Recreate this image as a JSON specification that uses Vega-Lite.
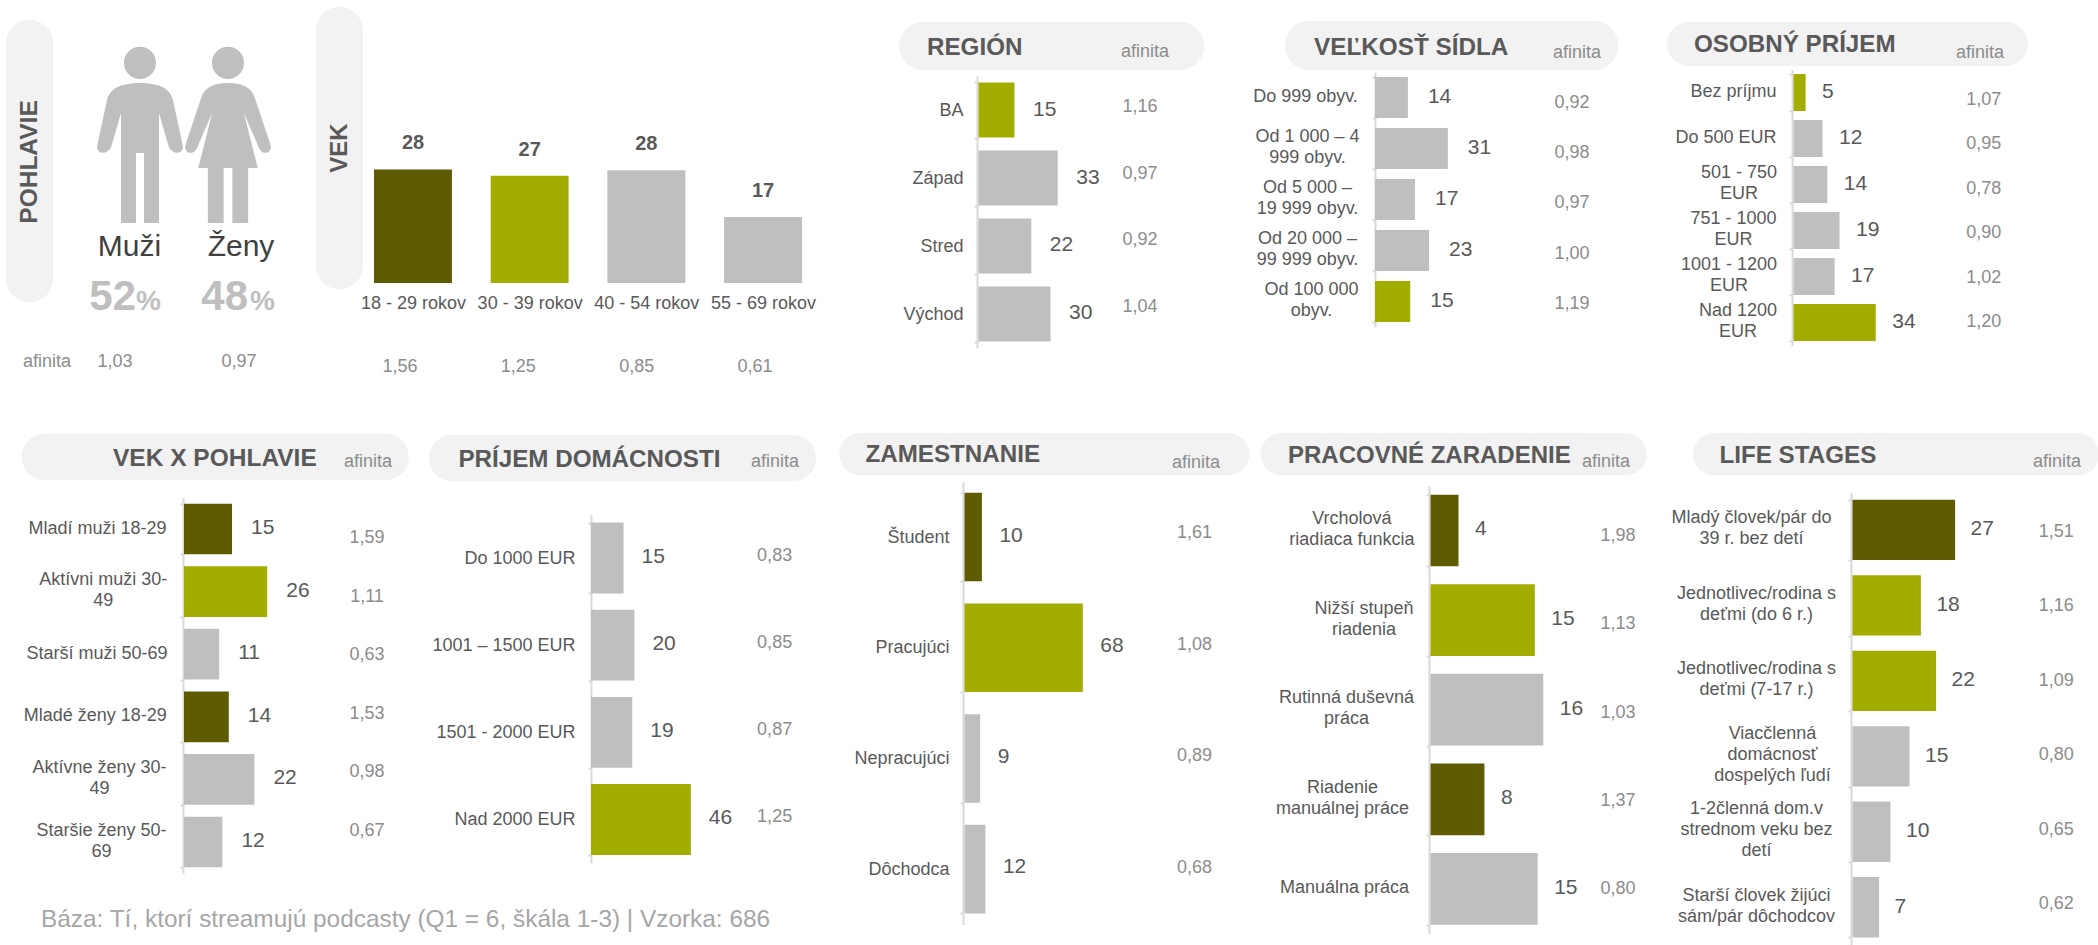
{"$schema":"https://vega.github.io/schema/vega-lite/v6.json","autosize":{"type":"none"},"padding":{"left":0,"top":0,"right":2098,"bottom":945},"bounds":"flush","spacing":420,
"config":{"font":"Liberation Sans","view":{"stroke":null},"legend":{"disable":true},"axisQuantitative":{"disable":true},"range":{"category":["#5f5b00","#a3ad00","#bfbfbf"]},
"axis":{"grid":false,"domainColor":"#d9d9d9","domainWidth":2,"tickColor":"#d9d9d9","tickWidth":2,"tickSize":3,"tickBand":"extent","labelFont":"Liberation Sans","labelFontSize":18,"labelColor":"#595959","labelLimit":300,"labelOverlap":false,"labelBound":false,"labelFlush":false,"labelLineHeight":21,"labelExpr":"split(datum.label,'|')"},
"text":{"baseline":"middle"}},
"vconcat":[
{"hconcat":[
{"width":316,"height":420,"data":{"values":[{"g":"Muži","pct":52,"a":"1,03"},{"g":"Ženy","pct":48,"a":"0,97"}]},"resolve":{"scale":{"x":"independent"}},"layer":[
{"data":{"values":[{"t":"POHLAVIE"}]},"mark":{"type":"rect","color":"#f2f2f2","cornerRadius":23},"encoding":{"x":{"value":6},"x2":{"value":53},"y":{"value":20},"y2":{"value":302}}},
{"data":{"values":[{"t":"POHLAVIE"}]},"mark":{"type":"text","align":"center","angle":270,"fontWeight":"bold","fontSize":24.5,"color":"#595959"},"encoding":{"x":{"value":30},"y":{"value":162},"text":{"field":"t"}}},
{"mark":{"type":"point","filled":true,"opacity":1,"color":"#bfbfbf"},"encoding":{"x":{"field":"g","type":"nominal","axis":null,"sort":null,"scale":{"type":"point","range":[140,228],"padding":0}},"y":{"value":135.5},"size":{"value":30625},"shape":{"field":"g","type":"nominal","scale":{"domain":["Muži","Ženy"],"range":["M-.183 -.83A.183 .183 0 1 1 .183 -.83A.183 .183 0 1 1 -.183 -.83ZM0 -.6C-.2 -.6 -.34 -.55 -.377 -.406L-.49 .12C-.5 .2 -.39 .24 -.33 .13L-.217 -.257L-.217 1L-.046 1L-.046 .2L.046 .2L.046 1L.217 1L.217 -.257L.33 .13C.39 .24 .5 .2 .49 .12L.377 -.406C.34 -.55 .2 -.6 0 -.6Z","M-.183 -.83A.183 .183 0 1 1 .183 -.83A.183 .183 0 1 1 -.183 -.83ZM0 -.6C-.15 -.6 -.27 -.56 -.31 -.42L-.49 .12C-.5 .2 -.39 .24 -.35 .13L-.18 -.26L-.34 .37L-.23 .37L-.23 1L-.05 1L-.05 .37L.05 .37L.05 1L.23 1L.23 .37L.34 .37L.18 -.26L.35 .13C.39 .24 .5 .2 .49 .12L.31 -.42C.27 -.56 .15 -.6 0 -.6Z"]}}}},
{"mark":{"type":"text","align":"center","baseline":"alphabetic","fontSize":30,"color":"#404040"},"encoding":{"x":{"field":"g","type":"nominal","axis":null,"sort":null,"scale":{"type":"point","range":[129.5,241],"padding":0}},"y":{"value":256},"text":{"field":"g"}}},
{"mark":{"type":"text","align":"right","baseline":"alphabetic","fontSize":42,"fontWeight":"bold","color":"#bfbfbf"},"encoding":{"x":{"field":"g","type":"nominal","axis":null,"sort":null,"scale":{"type":"point","range":[136,248],"padding":0}},"y":{"value":310},"text":{"field":"pct"}}},
{"mark":{"type":"text","align":"left","baseline":"alphabetic","fontSize":28,"fontWeight":"bold","color":"#bfbfbf","text":"%"},"encoding":{"x":{"field":"g","type":"nominal","axis":null,"sort":null,"scale":{"type":"point","range":[136,250],"padding":0}},"y":{"value":310}}},
{"mark":{"type":"text","align":"center","fontSize":18,"color":"#8c8c8c"},"encoding":{"x":{"field":"g","type":"nominal","axis":null,"sort":null,"scale":{"type":"point","range":[115,239],"padding":0}},"y":{"value":362},"text":{"field":"a"}}},
{"data":{"values":[{"t":"afinita"}]},"mark":{"type":"text","align":"center","fontSize":18,"color":"#8c8c8c"},"encoding":{"x":{"value":47},"y":{"value":362},"text":{"field":"t"}}}
]},
{"width":661,"height":420,"data":{"values":[{"c":"18 - 29 rokov","v":28.4,"k":"dark","a":"1,56"},{"c":"30 - 39 rokov","v":26.8,"k":"green","a":"1,25"},{"c":"40 - 54 rokov","v":28.2,"k":"grey","a":"0,85"},{"c":"55 - 69 rokov","v":16.5,"k":"grey","a":"0,61"}]},"resolve":{"scale":{"x":"independent"}},"layer":[
{"data":{"values":[{"t":"VEK"}]},"mark":{"type":"rect","color":"#f2f2f2","cornerRadius":23},"encoding":{"x":{"value":0},"x2":{"value":47},"y":{"value":7},"y2":{"value":289}}},
{"data":{"values":[{"t":"VEK"}]},"mark":{"type":"text","align":"center","angle":270,"fontWeight":"bold","fontSize":24,"color":"#595959"},"encoding":{"x":{"value":24},"y":{"value":148},"text":{"field":"t"}}},
{"mark":{"type":"bar"},"encoding":{"x":{"field":"c","type":"nominal","sort":null,"title":null,"scale":{"type":"band","range":[38.6,505.4],"paddingInner":0.332,"paddingOuter":0.166},"axis":{"offset":-137,"domain":false,"ticks":false,"labelAngle":0,"labelPadding":11}},"y":{"field":"v","type":"quantitative","scale":{"domain":[0,40],"range":[283,123],"nice":false}},"color":{"field":"k","type":"nominal"}}},
{"mark":{"type":"text","align":"center","dy":-26,"fontSize":20,"fontWeight":"bold","color":"#595959"},"encoding":{"x":{"field":"c","type":"nominal","sort":null,"axis":null,"scale":{"type":"point","range":[97,447],"padding":0}},"y":{"field":"v","type":"quantitative"},"text":{"field":"v","type":"quantitative","format":".0f"}}},
{"mark":{"type":"text","align":"center","fontSize":18,"color":"#8c8c8c"},"encoding":{"x":{"field":"c","type":"nominal","sort":null,"axis":null,"scale":{"type":"point","range":[84,439],"padding":0}},"y":{"datum":-21},"text":{"field":"a"}}}
]},
{"width":398,"height":420,"data":{"values":[{"c":"BA","v":15,"k":"green","a":"1,16"},{"c":"Západ","v":33,"k":"grey","a":"0,97"},{"c":"Stred","v":22,"k":"grey","a":"0,92"},{"c":"Východ","v":30,"k":"grey","a":"1,04"}]},"resolve":{"scale":{"y":"independent"}},"layer":[
{"data":{"values":[{"t":"REGIÓN"}]},"mark":{"type":"rect","color":"#f2f2f2","cornerRadius":24},"encoding":{"x":{"value":-78},"x2":{"value":227},"y":{"value":22},"y2":{"value":70}}},
{"data":{"values":[{"t":"REGIÓN"}]},"mark":{"type":"text","align":"left","fontWeight":"bold","fontSize":24.2,"color":"#595959"},"encoding":{"x":{"value":-50},"y":{"value":48},"text":{"field":"t"}}},
{"data":{"values":[{"t":"afinita"}]},"mark":{"type":"text","align":"center","fontSize":18,"color":"#8c8c8c"},"encoding":{"x":{"value":168},"y":{"value":52},"text":{"field":"t"}}},
{"mark":{"type":"bar","xOffset":1.5},"encoding":{"y":{"field":"c","type":"nominal","sort":null,"title":null,"scale":{"type":"band","range":[76,348],"paddingInner":0.19,"paddingOuter":0.095},"axis":{"labelPadding":11,"labelAlign":"right"}},"x":{"field":"v","type":"quantitative","scale":{"domain":[0,165.8],"nice":false}},"color":{"field":"k","type":"nominal"}}},
{"mark":{"type":"text","align":"left","dx":20,"fontSize":21,"color":"#595959"},"encoding":{"y":{"field":"c","type":"nominal","sort":null,"axis":null,"scale":{"type":"point","range":[110,313],"padding":0}},"x":{"field":"v","type":"quantitative"},"text":{"field":"v"}}},
{"mark":{"type":"text","align":"center","dy":1,"fontSize":18,"color":"#8c8c8c"},"encoding":{"y":{"field":"c","type":"nominal","sort":null,"axis":null,"scale":{"type":"point","range":[106,306],"padding":0}},"x":{"datum":67.9},"text":{"field":"a"}}}
]},
{"width":416.5,"height":420,"data":{"values":[{"c":"Do 999 obyv.","v":14,"k":"grey","a":"0,92"},{"c":"Od 1 000 – 4|999 obyv.","v":31,"k":"grey","a":"0,98"},{"c":"Od 5 000 –|19 999 obyv.","v":17,"k":"grey","a":"0,97"},{"c":"Od 20 000 –|99 999 obyv.","v":23,"k":"grey","a":"1,00"},{"c":"Od 100 000|obyv.","v":15,"k":"green","a":"1,19"}]},"resolve":{"scale":{"y":"independent"}},"layer":[
{"data":{"values":[{"t":"VEĽKOSŤ SÍDLA"}]},"mark":{"type":"rect","color":"#f2f2f2","cornerRadius":24},"encoding":{"x":{"value":-90},"x2":{"value":243},"y":{"value":21},"y2":{"value":70}}},
{"data":{"values":[{"t":"VEĽKOSŤ SÍDLA"}]},"mark":{"type":"text","align":"left","fontWeight":"bold","fontSize":24.3,"color":"#595959"},"encoding":{"x":{"value":-61},"y":{"value":48},"text":{"field":"t"}}},
{"data":{"values":[{"t":"afinita"}]},"mark":{"type":"text","align":"center","fontSize":18,"color":"#8c8c8c"},"encoding":{"x":{"value":202},"y":{"value":53},"text":{"field":"t"}}},
{"mark":{"type":"bar"},"encoding":{"y":{"field":"c","type":"nominal","sort":null,"title":null,"scale":{"type":"band","range":[72,327],"paddingInner":0.196,"paddingOuter":0.098},"axis":{"labelAlign":"center","labelOffset":{"condition":[{"test":"length(split(datum.value,'|'))==2","value":-12}],"value":-1},"labelPadding":{"condition":[{"test":"datum.value=='Do 999 obyv.'","value":67},{"test":"datum.value=='Od 100 000|obyv.'","value":61}],"value":65}}},"x":{"field":"v","type":"quantitative","scale":{"domain":[0,177.2],"nice":false}},"color":{"field":"k","type":"nominal"}}},
{"mark":{"type":"text","align":"left","dx":20,"fontSize":21,"color":"#595959"},"encoding":{"y":{"field":"c","type":"nominal","sort":null,"axis":null,"scale":{"type":"point","range":[97,301],"padding":0}},"x":{"field":"v","type":"quantitative"},"text":{"field":"v"}}},
{"mark":{"type":"text","align":"center","dy":1,"fontSize":18,"color":"#8c8c8c"},"encoding":{"y":{"field":"c","type":"nominal","sort":null,"axis":null,"scale":{"type":"point","range":[101.7,303],"padding":0}},"x":{"datum":83.8},"text":{"field":"a"}}}
]},
{"width":306.5,"height":420,"data":{"values":[{"c":"Bez príjmu","v":5,"k":"green","a":"1,07"},{"c":"Do 500 EUR","v":12,"k":"grey","a":"0,95"},{"c":"501 - 750|EUR","v":14,"k":"grey","a":"0,78"},{"c":"751 - 1000|EUR","v":19,"k":"grey","a":"0,90"},{"c":"1001 - 1200|EUR","v":17,"k":"grey","a":"1,02"},{"c":"Nad 1200|EUR","v":34,"k":"green","a":"1,20"}]},"resolve":{"scale":{"y":"independent"}},"layer":[
{"data":{"values":[{"t":"OSOBNÝ PRÍJEM"}]},"mark":{"type":"rect","color":"#f2f2f2","cornerRadius":22},"encoding":{"x":{"value":-125},"x2":{"value":236},"y":{"value":22},"y2":{"value":66}}},
{"data":{"values":[{"t":"OSOBNÝ PRÍJEM"}]},"mark":{"type":"text","align":"left","fontWeight":"bold","fontSize":24.2,"color":"#595959"},"encoding":{"x":{"value":-98},"y":{"value":45},"text":{"field":"t"}}},
{"data":{"values":[{"t":"afinita"}]},"mark":{"type":"text","align":"center","fontSize":18,"color":"#8c8c8c"},"encoding":{"x":{"value":188},"y":{"value":53},"text":{"field":"t"}}},
{"mark":{"type":"bar","xOffset":1.5},"encoding":{"y":{"field":"c","type":"nominal","sort":null,"title":null,"scale":{"type":"band","range":[69.5,345.5],"paddingInner":0.196,"paddingOuter":0.098},"axis":{"labelAlign":"center","labelOffset":{"condition":[{"test":"length(split(datum.value,'|'))==2","value":-12}],"value":-1},"labelPadding":{"condition":[{"test":"datum.value=='Do 500 EUR'","value":63.5},{"test":"datum.value=='501 - 750|EUR'","value":50.5},{"test":"datum.value=='1001 - 1200|EUR'","value":60.5},{"test":"datum.value=='Nad 1200|EUR'","value":51.5}],"value":56}}},"x":{"field":"v","type":"quantitative","scale":{"domain":[0,126.7],"nice":false}},"color":{"field":"k","type":"nominal"}}},
{"mark":{"type":"text","align":"left","dx":18,"fontSize":21,"color":"#595959"},"encoding":{"y":{"field":"c","type":"nominal","sort":null,"axis":null,"scale":{"type":"point","range":[92,322],"padding":0}},"x":{"field":"v","type":"quantitative"},"text":{"field":"v"}}},
{"mark":{"type":"text","align":"center","dy":1,"fontSize":18,"color":"#8c8c8c"},"encoding":{"y":{"field":"c","type":"nominal","sort":null,"axis":null,"scale":{"type":"point","range":[99,321],"padding":0}},"x":{"datum":79.3},"text":{"field":"a"}}}
]}
],"bounds":"flush","spacing":0},
{"hconcat":[
{"width":183,"height":525,"data":{"values":[{"t":"Báza: Tí, ktorí streamujú podcasty (Q1 = 6, škála 1-3) | Vzorka: 686"}]},"mark":{"type":"text","align":"left","fontSize":24.4,"color":"#a6a6a6"},"encoding":{"x":{"value":41},"y":{"value":500},"text":{"field":"t"}}},
{"width":408,"height":525,"data":{"values":[{"c":"Mladí muži 18-29","v":15,"k":"dark","a":"1,59"},{"c":"Aktívni muži 30-|49","v":26,"k":"green","a":"1,11"},{"c":"Starší muži 50-69","v":11,"k":"grey","a":"0,63"},{"c":"Mladé ženy 18-29","v":14,"k":"dark","a":"1,53"},{"c":"Aktívne ženy 30-|49","v":22,"k":"grey","a":"0,98"},{"c":"Staršie ženy 50-|69","v":12,"k":"grey","a":"0,67"}]},"resolve":{"scale":{"y":"independent"}},"layer":[
{"data":{"values":[{"t":"VEK X POHLAVIE"}]},"mark":{"type":"rect","color":"#f2f2f2","cornerRadius":23},"encoding":{"x":{"value":-161.3},"x2":{"value":225.7},"y":{"value":13.7},"y2":{"value":60}}},
{"data":{"values":[{"t":"VEK X POHLAVIE"}]},"mark":{"type":"text","align":"left","fontWeight":"bold","fontSize":24.5,"color":"#595959"},"encoding":{"x":{"value":-70},"y":{"value":39.3},"text":{"field":"t"}}},
{"data":{"values":[{"t":"afinita"}]},"mark":{"type":"text","align":"center","fontSize":18,"color":"#8c8c8c"},"encoding":{"x":{"value":185},"y":{"value":42},"text":{"field":"t"}}},
{"mark":{"type":"bar","xOffset":1},"encoding":{"y":{"field":"c","type":"nominal","sort":null,"title":null,"scale":{"type":"band","range":[77.7,453.3],"paddingInner":0.19,"paddingOuter":0.095},"axis":{"labelAlign":"center","labelOffset":{"condition":[{"test":"length(split(datum.value,'|'))==2","value":-12}],"value":-1},"labelPadding":{"condition":[{"test":"datum.value=='Mladí muži 18-29'","value":83},{"test":"datum.value=='Aktívni muži 30-|49'","value":77.3},{"test":"datum.value=='Starší muži 50-69'","value":83.4},{"test":"datum.value=='Mladé ženy 18-29'","value":85.2},{"test":"datum.value=='Aktívne ženy 30-|49'","value":81}],"value":79}}},"x":{"field":"v","type":"quantitative","scale":{"domain":[0,127.5],"nice":false}},"color":{"field":"k","type":"nominal"}}},
{"mark":{"type":"text","align":"left","dx":20,"fontSize":21,"color":"#595959"},"encoding":{"y":{"field":"c","type":"nominal","sort":null,"axis":null,"scale":{"type":"point","range":[108,421],"padding":0}},"x":{"field":"v","type":"quantitative"},"text":{"field":"v"}}},
{"mark":{"type":"text","align":"center","dy":1,"fontSize":18,"color":"#8c8c8c"},"encoding":{"y":{"field":"c","type":"nominal","sort":null,"axis":null,"scale":{"type":"point","range":[117,410],"padding":0}},"x":{"datum":57.5},"text":{"field":"a"}}}
]},
{"width":371.6,"height":525,"data":{"values":[{"c":"Do 1000 EUR","v":15,"k":"grey","a":"0,83"},{"c":"1001 – 1500 EUR","v":20,"k":"grey","a":"0,85"},{"c":"1501 - 2000 EUR","v":19,"k":"grey","a":"0,87"},{"c":"Nad 2000 EUR","v":46,"k":"green","a":"1,25"}]},"resolve":{"scale":{"y":"independent"}},"layer":[
{"data":{"values":[{"t":"PRÍJEM DOMÁCNOSTI"}]},"mark":{"type":"rect","color":"#f2f2f2","cornerRadius":23},"encoding":{"x":{"value":-162},"x2":{"value":225},"y":{"value":15},"y2":{"value":61.3}}},
{"data":{"values":[{"t":"PRÍJEM DOMÁCNOSTI"}]},"mark":{"type":"text","align":"left","fontWeight":"bold","fontSize":24.2,"color":"#595959"},"encoding":{"x":{"value":-132.6},"y":{"value":40.3},"text":{"field":"t"}}},
{"data":{"values":[{"t":"afinita"}]},"mark":{"type":"text","align":"center","fontSize":18,"color":"#8c8c8c"},"encoding":{"x":{"value":184},"y":{"value":42},"text":{"field":"t"}}},
{"mark":{"type":"bar"},"encoding":{"y":{"field":"c","type":"nominal","sort":null,"title":null,"scale":{"type":"band","range":[94.5,443],"paddingInner":0.187,"paddingOuter":0.093},"axis":{"labelPadding":13,"labelAlign":"right"}},"x":{"field":"v","type":"quantitative","scale":{"domain":[0,171.2],"nice":false}},"color":{"field":"k","type":"nominal"}}},
{"mark":{"type":"text","align":"left","dx":18,"fontSize":21,"color":"#595959"},"encoding":{"y":{"field":"c","type":"nominal","sort":null,"axis":null,"scale":{"type":"point","range":[137,398],"padding":0}},"x":{"field":"v","type":"quantitative"},"text":{"field":"v"}}},
{"mark":{"type":"text","align":"center","dy":1,"fontSize":18,"color":"#8c8c8c"},"encoding":{"y":{"field":"c","type":"nominal","sort":null,"axis":null,"scale":{"type":"point","range":[135,396],"padding":0}},"x":{"datum":84.6},"text":{"field":"a"}}}
]},
{"width":465.8,"height":525,"data":{"values":[{"c":"Študent","v":10,"k":"dark","a":"1,61"},{"c":"Pracujúci","v":68,"k":"green","a":"1,08"},{"c":"Nepracujúci","v":9,"k":"grey","a":"0,89"},{"c":"Dôchodca","v":12,"k":"grey","a":"0,68"}]},"resolve":{"scale":{"y":"independent"}},"layer":[
{"data":{"values":[{"t":"ZAMESTNANIE"}]},"mark":{"type":"rect","color":"#f2f2f2","cornerRadius":21},"encoding":{"x":{"value":-123.6},"x2":{"value":286.4},"y":{"value":13},"y2":{"value":55.3}}},
{"data":{"values":[{"t":"ZAMESTNANIE"}]},"mark":{"type":"text","align":"left","fontWeight":"bold","fontSize":24.2,"color":"#595959"},"encoding":{"x":{"value":-97.6},"y":{"value":35},"text":{"field":"t"}}},
{"data":{"values":[{"t":"afinita"}]},"mark":{"type":"text","align":"center","fontSize":18,"color":"#8c8c8c"},"encoding":{"x":{"value":233},"y":{"value":42.7},"text":{"field":"t"}}},
{"mark":{"type":"bar","xOffset":1.5},"encoding":{"y":{"field":"c","type":"nominal","sort":null,"title":null,"scale":{"type":"band","range":[61.7,504.5],"paddingInner":0.2,"paddingOuter":0.1},"axis":{"labelPadding":11,"labelAlign":"right"}},"x":{"field":"v","type":"quantitative","scale":{"domain":[0,267.7],"nice":false}},"color":{"field":"k","type":"nominal"}}},
{"mark":{"type":"text","align":"left","dx":19,"fontSize":21,"color":"#595959"},"encoding":{"y":{"field":"c","type":"nominal","sort":null,"axis":null,"scale":{"type":"point","range":[116,447],"padding":0}},"x":{"field":"v","type":"quantitative"},"text":{"field":"v"}}},
{"mark":{"type":"text","align":"center","dy":1,"fontSize":18,"color":"#8c8c8c"},"encoding":{"y":{"field":"c","type":"nominal","sort":null,"axis":null,"scale":{"type":"point","range":[112,446.7],"padding":0}},"x":{"datum":133},"text":{"field":"a"}}}
]},
{"width":421.6,"height":525,"data":{"values":[{"c":"Vrcholová|riadiaca funkcia","v":4,"k":"dark","a":"1,98"},{"c":"Nižší stupeň|riadenia","v":14.9,"k":"green","a":"1,13"},{"c":"Rutinná duševná|práca","v":16.1,"k":"grey","a":"1,03"},{"c":"Riadenie|manuálnej práce","v":7.7,"k":"dark","a":"1,37"},{"c":"Manuálna práca","v":15.3,"k":"grey","a":"0,80"}]},"resolve":{"scale":{"y":"independent"}},"layer":[
{"data":{"values":[{"t":"PRACOVNÉ ZARADENIE"}]},"mark":{"type":"rect","color":"#f2f2f2","cornerRadius":21},"encoding":{"x":{"value":-168.4},"x2":{"value":217.6},"y":{"value":13},"y2":{"value":55.3}}},
{"data":{"values":[{"t":"PRACOVNÉ ZARADENIE"}]},"mark":{"type":"text","align":"left","fontWeight":"bold","fontSize":24,"color":"#595959"},"encoding":{"x":{"value":-141},"y":{"value":36},"text":{"field":"t"}}},
{"data":{"values":[{"t":"afinita"}]},"mark":{"type":"text","align":"center","fontSize":18,"color":"#8c8c8c"},"encoding":{"x":{"value":177},"y":{"value":42},"text":{"field":"t"}}},
{"mark":{"type":"bar","xOffset":1.5},"encoding":{"y":{"field":"c","type":"nominal","sort":null,"title":null,"scale":{"type":"band","range":[65.7,513.7],"paddingInner":0.2,"paddingOuter":0.1},"axis":{"labelAlign":"center","labelOffset":{"condition":[{"test":"length(split(datum.value,'|'))==2","value":-12}],"value":-1},"labelPadding":{"condition":[{"test":"datum.value=='Nižší stupeň|riadenia'","value":62.4},{"test":"datum.value=='Vrcholová|riadiaca funkcia'","value":74.6},{"test":"datum.value=='Rutinná duševná|práca'","value":80},{"test":"datum.value=='Riadenie|manuálnej práce'","value":84}],"value":82}}},"x":{"field":"v","type":"quantitative","scale":{"domain":[0,60.2],"nice":false}},"color":{"field":"k","type":"nominal"}}},
{"mark":{"type":"text","align":"left","dx":18,"fontSize":21,"color":"#595959"},"encoding":{"y":{"field":"c","type":"nominal","sort":null,"axis":null,"scale":{"type":"point","range":[109,468],"padding":0}},"x":{"field":"v","type":"quantitative"},"text":{"field":"v","type":"quantitative","format":".0f"}}},
{"mark":{"type":"text","align":"center","dy":1,"fontSize":18,"color":"#8c8c8c"},"encoding":{"y":{"field":"c","type":"nominal","sort":null,"axis":null,"scale":{"type":"point","range":[115,468],"padding":0}},"x":{"datum":27},"text":{"field":"a"}}}
]},
{"width":248,"height":525,"data":{"values":[{"c":"Mladý človek/pár do|39 r. bez detí","v":27,"k":"dark","a":"1,51"},{"c":"Jednotlivec/rodina s|deťmi (do 6 r.)","v":18,"k":"green","a":"1,16"},{"c":"Jednotlivec/rodina s|deťmi (7-17 r.)","v":22,"k":"green","a":"1,09"},{"c":"Viacčlenná|domácnosť|dospelých ľudí","v":15,"k":"grey","a":"0,80"},{"c":"1-2členná dom.v|strednom veku bez|detí","v":10,"k":"grey","a":"0,65"},{"c":"Starší človek žijúci|sám/pár dôchodcov","v":7,"k":"grey","a":"0,62"}]},"resolve":{"scale":{"y":"independent"}},"layer":[
{"data":{"values":[{"t":"LIFE STAGES"}]},"mark":{"type":"rect","color":"#f2f2f2","cornerRadius":21},"encoding":{"x":{"value":-158},"x2":{"value":248},"y":{"value":13},"y2":{"value":55.3}}},
{"data":{"values":[{"t":"LIFE STAGES"}]},"mark":{"type":"text","align":"left","fontWeight":"bold","fontSize":24.2,"color":"#595959"},"encoding":{"x":{"value":-131.5},"y":{"value":36},"text":{"field":"t"}}},
{"data":{"values":[{"t":"afinita"}]},"mark":{"type":"text","align":"center","fontSize":18,"color":"#8c8c8c"},"encoding":{"x":{"value":206},"y":{"value":42},"text":{"field":"t"}}},
{"mark":{"type":"bar","xOffset":1.5},"encoding":{"y":{"field":"c","type":"nominal","sort":null,"title":null,"scale":{"type":"band","range":[72.2,525],"paddingInner":0.2,"paddingOuter":0.1},"axis":{"labelAlign":"center","labelOffset":{"condition":[{"test":"length(split(datum.value,'|'))==3","value":-23}],"value":-12},"labelPadding":{"condition":[{"test":"datum.value=='Mladý človek/pár do|39 r. bez detí'","value":97},{"test":"datum.value=='Viacčlenná|domácnosť|dospelých ľudí'","value":76}],"value":92}}},"x":{"field":"v","type":"quantitative","scale":{"domain":[0,65.26],"nice":false}},"color":{"field":"k","type":"nominal"}}},
{"mark":{"type":"text","align":"left","dx":17,"fontSize":21,"color":"#595959"},"encoding":{"y":{"field":"c","type":"nominal","sort":null,"axis":null,"scale":{"type":"point","range":[109,487],"padding":0}},"x":{"field":"v","type":"quantitative"},"text":{"field":"v"}}},
{"mark":{"type":"text","align":"center","dy":1,"fontSize":18,"color":"#8c8c8c"},"encoding":{"y":{"field":"c","type":"nominal","sort":null,"axis":null,"scale":{"type":"point","range":[111,483],"padding":0}},"x":{"datum":54},"text":{"field":"a"}}}
]}
],"bounds":"flush","spacing":0}
]}
